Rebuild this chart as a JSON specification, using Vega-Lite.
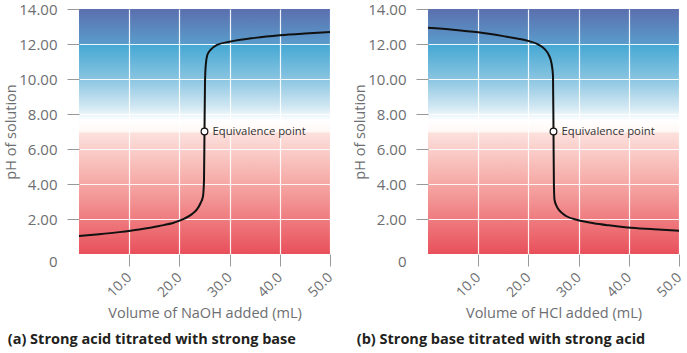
{
  "$schema": "https://vega.github.io/schema/vega-lite/v6.json",
  "padding": {"left": 3, "top": 2, "right": 3, "bottom": 2},
  "spacing": 17,
  "datasets": {
    "acid": [
      {"v": 0, "ph": 1.03}, {"v": 4, "ph": 1.13}, {"v": 8, "ph": 1.25}, {"v": 12, "ph": 1.4},
      {"v": 16, "ph": 1.6}, {"v": 19, "ph": 1.8}, {"v": 21, "ph": 2.02}, {"v": 22.5, "ph": 2.28},
      {"v": 23.5, "ph": 2.55}, {"v": 24.2, "ph": 2.9}, {"v": 24.7, "ph": 3.3}, {"v": 24.9, "ph": 4.2},
      {"v": 25.0, "ph": 7.0}, {"v": 25.1, "ph": 9.8}, {"v": 25.25, "ph": 10.8}, {"v": 25.56, "ph": 11.37},
      {"v": 26.2, "ph": 11.66}, {"v": 27.5, "ph": 11.95}, {"v": 30, "ph": 12.13}, {"v": 35, "ph": 12.35},
      {"v": 40, "ph": 12.5}, {"v": 45, "ph": 12.6}, {"v": 50, "ph": 12.68}
    ],
    "base": [
      {"v": 0, "ph": 12.93}, {"v": 5, "ph": 12.82}, {"v": 10, "ph": 12.67}, {"v": 15, "ph": 12.45},
      {"v": 18, "ph": 12.3}, {"v": 20, "ph": 12.17}, {"v": 22, "ph": 11.97}, {"v": 23.2, "ph": 11.72},
      {"v": 24.1, "ph": 11.35}, {"v": 24.6, "ph": 10.9}, {"v": 24.9, "ph": 10.2}, {"v": 25.0, "ph": 7.0},
      {"v": 25.08, "ph": 4.0}, {"v": 25.2, "ph": 3.1}, {"v": 25.6, "ph": 2.75}, {"v": 26.4, "ph": 2.42},
      {"v": 27.5, "ph": 2.17}, {"v": 29.8, "ph": 1.94}, {"v": 33, "ph": 1.76}, {"v": 36, "ph": 1.64},
      {"v": 39.7, "ph": 1.52}, {"v": 45, "ph": 1.42}, {"v": 50, "ph": 1.33}
    ],
    "eq": [{"v": 25, "ph": 7, "label": "Equivalence point"}]
  },
  "hconcat": [
    {
      "width": 251,
      "height": 245,
      "title": {"text": "(a) Strong acid titrated with strong base"},
      "encoding": {
        "x": {"field": "v", "type": "quantitative", "title": "Volume of NaOH added (mL)",
          "scale": {"domain": [0, 50], "nice": false},
          "axis": {"values": [10, 20, 30, 40, 50], "format": ".1f", "labelAngle": -45, "labelAlign": "right", "labelBaseline": "middle", "labelPadding": 9, "labelFontSize": 14, "labelColor": "#6d6e71", "domain": false, "tickColor": "#999999", "tickSize": 12, "grid": true, "gridColor": "#ffffff", "gridOpacity": 0.9, "gridWidth": 1.2, "titleFontSize": 14.5, "titleFontWeight": "normal", "titleColor": "#6d6e71", "titlePadding": 7}},
        "y": {"field": "ph", "type": "quantitative", "title": "pH of solution",
          "scale": {"domain": [0, 14], "nice": false},
          "axis": {"values": [0, 2, 4, 6, 8, 10, 12, 14], "labelExpr": "datum.value == 0 ? '0' : format(datum.value, '.2f')", "labelBaseline": {"condition": {"test": "datum.value == 0", "value": "top"}, "value": "middle"}, "labelFontSize": 15, "labelColor": "#6d6e71", "labelPadding": 10, "domain": false, "tickColor": "#999999", "tickSize": 12, "tickOpacity": {"condition": {"test": "datum.value == 0", "value": 0}, "value": 1}, "grid": true, "gridColor": "#ffffff", "gridOpacity": {"condition": {"test": "datum.value == 0 || datum.value == 14", "value": 0}, "value": 0.9}, "gridWidth": 1.2, "titleFontSize": 14.5, "titleFontWeight": "normal", "titleColor": "#6d6e71", "titlePadding": 0}}
      },
      "layer": [
        {
          "data": {"name": "acid"},
          "mark": {"type": "line", "color": "#111111", "strokeWidth": 2, "interpolate": "monotone"}
        },
        {
          "data": {"name": "eq"},
          "mark": {"type": "point", "shape": "circle", "filled": true, "fill": "white", "stroke": "#111111", "strokeWidth": 1.2, "size": 45, "opacity": 1}
        },
        {
          "data": {"name": "eq"},
          "mark": {"type": "text", "align": "left", "baseline": "middle", "dx": 8, "fontSize": 11.3, "font": "Open Sans", "color": "#333333"},
          "encoding": {"text": {"field": "label"}}
        }
      ]
    },
    {
      "width": 251,
      "height": 245,
      "title": {"text": "(b) Strong base titrated with strong acid"},
      "encoding": {
        "x": {"field": "v", "type": "quantitative", "title": "Volume of HCl added (mL)",
          "scale": {"domain": [0, 50], "nice": false},
          "axis": {"values": [10, 20, 30, 40, 50], "format": ".1f", "labelAngle": -45, "labelAlign": "right", "labelBaseline": "middle", "labelPadding": 9, "labelFontSize": 14, "labelColor": "#6d6e71", "domain": false, "tickColor": "#999999", "tickSize": 12, "grid": true, "gridColor": "#ffffff", "gridOpacity": 0.9, "gridWidth": 1.2, "titleFontSize": 14.5, "titleFontWeight": "normal", "titleColor": "#6d6e71", "titlePadding": 7}},
        "y": {"field": "ph", "type": "quantitative", "title": "pH of solution",
          "scale": {"domain": [0, 14], "nice": false},
          "axis": {"values": [0, 2, 4, 6, 8, 10, 12, 14], "labelExpr": "datum.value == 0 ? '0' : format(datum.value, '.2f')", "labelBaseline": {"condition": {"test": "datum.value == 0", "value": "top"}, "value": "middle"}, "labelFontSize": 15, "labelColor": "#6d6e71", "labelPadding": 10, "domain": false, "tickColor": "#999999", "tickSize": 12, "tickOpacity": {"condition": {"test": "datum.value == 0", "value": 0}, "value": 1}, "grid": true, "gridColor": "#ffffff", "gridOpacity": {"condition": {"test": "datum.value == 0 || datum.value == 14", "value": 0}, "value": 0.9}, "gridWidth": 1.2, "titleFontSize": 14.5, "titleFontWeight": "normal", "titleColor": "#6d6e71", "titlePadding": 0}}
      },
      "layer": [
        {
          "data": {"name": "base"},
          "mark": {"type": "line", "color": "#111111", "strokeWidth": 2, "interpolate": "monotone"}
        },
        {
          "data": {"name": "eq"},
          "mark": {"type": "point", "shape": "circle", "filled": true, "fill": "white", "stroke": "#111111", "strokeWidth": 1.2, "size": 45, "opacity": 1}
        },
        {
          "data": {"name": "eq"},
          "mark": {"type": "text", "align": "left", "baseline": "middle", "dx": 8, "fontSize": 11.3, "font": "Open Sans", "color": "#333333"},
          "encoding": {"text": {"field": "label"}}
        }
      ]
    }
  ],
  "resolve": {"scale": {"x": "independent", "y": "independent"}},
  "config": {
    "font": "Open Sans",
    "view": {
      "stroke": null,
      "fill": {
        "gradient": "linear", "x1": 0, "y1": 0, "x2": 0, "y2": 1,
        "stops": [
          {"offset": 0, "color": "#5b6fae"},
          {"offset": 0.14, "color": "#5a9bcb"},
          {"offset": 0.145, "color": "#45a8d4"},
          {"offset": 0.28, "color": "#86c3e0"},
          {"offset": 0.4, "color": "#d2e8f3"},
          {"offset": 0.455, "color": "#ffffff"},
          {"offset": 0.5, "color": "#fff8f6"},
          {"offset": 0.508, "color": "#fce0dc"},
          {"offset": 0.7, "color": "#f6aca8"},
          {"offset": 1, "color": "#e8505b"}
        ]
      }
    },
    "title": {
      "orient": "bottom",
      "anchor": "start",
      "fontSize": 14.5,
      "fontWeight": "bold",
      "color": "#231f20",
      "offset": 13,
      "dx": 4
    }
  }
}
